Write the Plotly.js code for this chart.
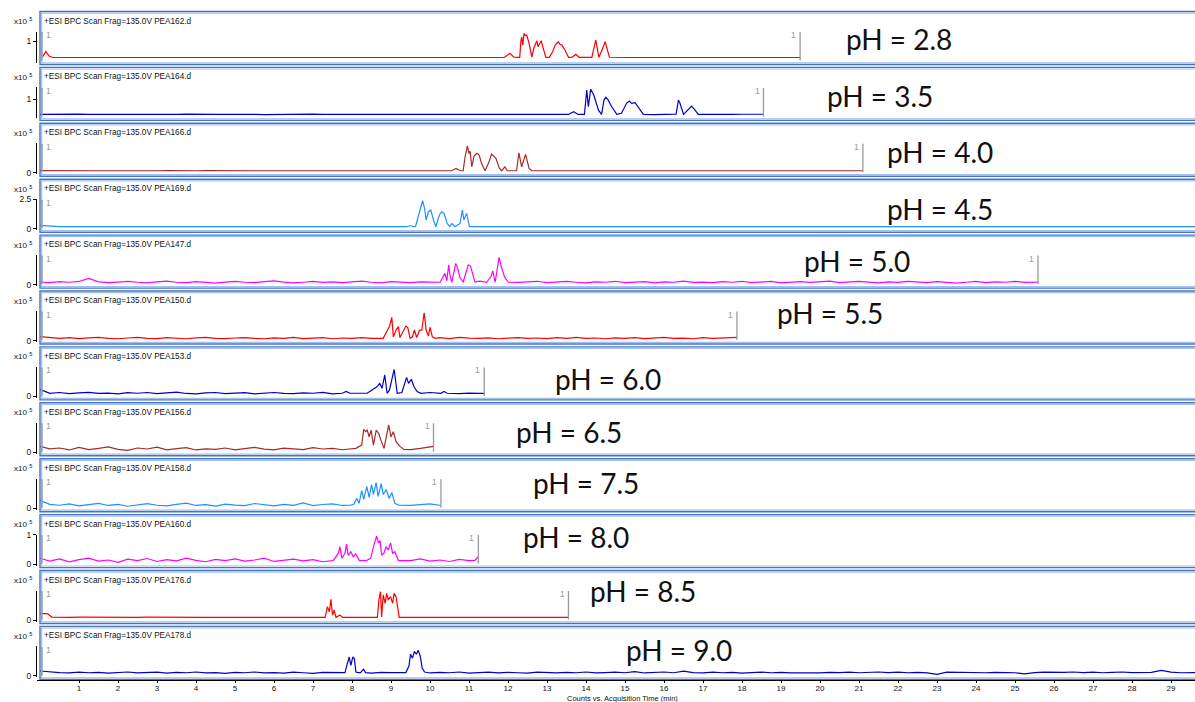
<!DOCTYPE html>
<html>
<head>
<meta charset="utf-8">
<script src="https://cdn.plot.ly/plotly-3.0.1.min.js"></script>
<style>html,body{margin:0;padding:0;background:#fff;}#chart{width:1195px;height:702px;}</style>
</head>
<body>
<div id="chart"></div>
<script>
// ---------------- DATA ----------------
const phLabels = ["pH = 2.8","pH = 3.5","pH = 4.0","pH = 4.5","pH = 5.0","pH = 5.5","pH = 6.0","pH = 6.5","pH = 7.5","pH = 8.0","pH = 8.5","pH = 9.0"];
const fileNames = ["PEA162.d","PEA164.d","PEA166.d","PEA169.d","PEA147.d","PEA150.d","PEA153.d","PEA156.d","PEA158.d","PEA160.d","PEA176.d","PEA178.d"];
const scanTitle = "+ESI BPC Scan Frag=135.0V ";
const xTicks = [1,2,3,4,5,6,7,8,9,10,11,12,13,14,15,16,17,18,19,20,21,22,23,24,25,26,27,28,29];
const yTicks = [[1],[1],[0],[0,2.5],[0],[0],[0],[0],[0],[0,1],[0],[0]];
const yTop = [1.5,1.65,2.0,2.5,1.5,2.0,1.5,1.5,1.5,1.0,2.0,1.5];   // counts x10^5 at top of each axis
const runEnd = [19.49,18.55,21.1,null,25.59,17.87,11.39,10.09,10.28,11.24,13.55,null]; // min

// acquisition time grid for baseline readings (min)
const timeGrid = [0,0.25,0.5,0.75,1,1.25,1.5,1.75,2,2.25,2.5,2.75,3,3.25,3.5,3.75,4,4.25,4.5,4.75,5,5.25,5.5,5.75,6,6.25,6.5,6.75,7,7.25,7.5,7.75,8,8.25,8.5,8.75,9,9.25,9.5,9.75,10,10.25,10.5,10.75,11,11.25,11.5,11.75,12,12.25,12.5,12.75,13,13.25,13.5,13.75,14,14.25,14.5,14.75,15,15.25,15.5,15.75,16,16.25,16.5,16.75,17,17.25,17.5,17.75,18,18.25,18.5,18.75,19,19.25,19.5,19.75,20,20.25,20.5,20.75,21,21.25,21.5,21.75,22,22.25,22.5,22.75,23,23.25,23.5,23.75,24,24.25,24.5,24.75,25,25.25,25.5,25.75,26,26.25,26.5,26.75,27,27.25,27.5,27.75,28,28.25,28.5,28.75,29,29.25,29.5,29.75];

// pH 2.8
const base_ph28 = [0.2,0.19,0.18,0.18,0.19,0.17,0.18,0.18,0.16,0.18,0.19,0.18,0.18,0.17,0.18,0.18,0.19,0.18,0.18,0.18,
0.17,0.18,0.19,0.18,0.18,0.18,0.16,0.18,0.18,0.19,0.18,0.18,0.18,0.17,0.18,0.18,0.18,0.19,0.18,0.18,
0.18,0.17,0.18,0.18,0.18,0.19,0.18,0.18,0.2,0.18,0.18,0.18,0.18,0.18,0.17,0.18,0.18,0.18,0.18,0.17,
0.18,0.18,0.18,0.19,0.18,0.18,0.17,0.18,0.18,0.18,0.19,0.18,0.18,0.18,0.18,0.18,0.18,0.18];
const peakT_ph28 = [0.06,0.15,0.24,0.34,11.9,12.05,12.15,12.25,12.3,12.33,12.35,12.38,12.41,12.44,12.48,12.54,12.61,12.67,12.74,12.77,12.81,12.85,12.91,12.97,13.06,13.15,13.21,13.25,13.29,13.33,13.38,13.46,13.55,13.65,13.74,13.82,14.15,14.25,14.33,14.42,14.49,14.6,14.7];
const peakV_ph28 = [0.2,0.48,0.24,0.18,0.18,0.39,0.2,0.19,0.19,1.0,1.23,0.8,1.41,1.3,1.32,0.9,0.2,0.7,1.03,0.73,0.9,1.03,0.6,0.19,0.19,0.5,0.81,0.9,0.98,0.85,0.81,0.56,0.19,0.2,0.34,0.19,0.19,1.07,0.19,0.6,0.98,0.19,0.18];

// pH 3.5
const base_ph35 = [0.14,0.15,0.13,0.14,0.16,0.14,0.13,0.14,0.15,0.14,0.14,0.13,0.15,0.14,0.14,0.16,0.14,0.13,0.14,0.14,
0.15,0.14,0.14,0.13,0.14,0.15,0.14,0.14,0.16,0.14,0.14,0.13,0.14,0.14,0.15,0.14,0.13,0.14,0.14,0.15,
0.14,0.14,0.13,0.14,0.15,0.14,0.14,0.14,0.13,0.15,0.14,0.14,0.17,0.14,0.14,0.14,0.13,0.14,0.14,0.14,
0.15,0.14,0.14,0.13,0.14,0.14,0.15,0.14,0.14,0.13,0.14,0.14,0.15,0.14,0.15];
const peakT_ph35 = [13.55,13.68,13.8,13.96,14.02,14.06,14.12,14.2,14.32,14.4,14.46,14.51,14.57,14.66,14.79,14.91,15.04,15.11,15.17,15.26,15.34,15.47,16.25,16.31,16.37,16.41,16.5,16.62,16.71,16.79,16.88];
const peakV_ph35 = [0.14,0.29,0.14,0.14,1.5,0.57,1.55,1.22,0.38,0.14,0.94,1.1,0.94,0.57,0.14,0.2,0.76,0.89,0.76,0.8,0.53,0.14,0.14,0.16,0.94,0.76,0.14,0.4,0.6,0.4,0.14];

// pH 4.0
const base_ph40 = [0.15,0.14,0.14,0.13,0.15,0.14,0.14,0.14,0.13,0.15,0.14,0.14,0.14,0.15,0.13,0.14,0.14,0.15,0.14,0.14,
0.13,0.14,0.15,0.14,0.14,0.14,0.13,0.14,0.15,0.14,0.14,0.14,0.15,0.13,0.14,0.14,0.14,0.15,0.14,0.14,
0.14,0.13,0.14,0.15,0.14,0.14,0.14,0.13,0.14,0.15,0.14,0.14,0.14,0.14,0.13,0.15,0.14,0.14,0.14,0.15,
0.14,0.13,0.14,0.14,0.15,0.14,0.14,0.14,0.13,0.14,0.15,0.14,0.14,0.14,0.13,0.14,0.15,0.14,0.14,0.14,
0.13,0.14,0.15,0.14,0.14];
const peakT_ph40 = [10.55,10.67,10.78,10.85,10.9,10.96,11.0,11.03,11.07,11.13,11.2,11.26,11.32,11.41,11.5,11.58,11.64,11.69,11.78,11.84,11.92,11.98,12.22,12.28,12.35,12.45,12.54,12.61];
const peakV_ph40 = [0.14,0.3,0.14,0.15,1.09,1.83,1.32,1.45,0.41,1.14,1.32,1.22,0.64,0.14,0.64,1.27,1.09,0.98,0.3,0.14,0.41,0.14,0.14,1.36,0.41,1.25,0.3,0.14];

// pH 4.5
const base_ph45 = [0.28,0.2,0.17,0.17,0.17,0.14,0.17,0.17,0.17,0.17,0.17,0.17,0.14,0.17,0.17,0.17,0.17,0.17,0.17,0.17,
0.17,0.17,0.14,0.17,0.17,0.17,0.17,0.17,0.14,0.17,0.17,0.17,0.17,0.17,0.17,0.17,0.17,0.17,0.17,0.17,
0.17,0.17,0.17,0.17,0.17,0.17,0.17,0.17,0.17,0.14,0.17,0.17,0.17,0.17,0.17,0.14,0.17,0.17,0.17,0.17,
0.17,0.17,0.14,0.17,0.17,0.17,0.17,0.17,0.17,0.17,0.17,0.14,0.17,0.17,0.17,0.17,0.17,0.17,0.17,0.17,
0.17,0.17,0.17,0.14,0.17,0.17,0.17,0.17,0.17,0.17,0.17,0.17,0.17,0.17,0.14,0.17,0.17,0.17,0.17,0.17,
0.17,0.17,0.17,0.17,0.14,0.17,0.17,0.17,0.17,0.17,0.17,0.17,0.17,0.14,0.17,0.17,0.17,0.17,0.17,0.17];
const peakT_ph45 = [9.4,9.51,9.57,9.63,9.7,9.76,9.81,9.86,9.9,9.96,10.02,10.09,10.15,10.24,10.3,10.36,10.44,10.51,10.56,10.64,10.77,10.83,10.87,10.94,11.01,11.1];
const peakV_ph45 = [0.17,0.27,0.17,0.2,1.02,1.58,2.37,1.73,0.74,1.44,1.58,0.74,0.17,1.16,1.44,1.3,0.45,0.17,0.45,0.17,0.45,1.58,0.74,1.3,0.17,0.17];

// pH 5.0
const base_ph50 = [0.12,0.1,0.15,0.12,0.16,0.32,0.14,0.1,0.13,0.17,0.12,0.09,0.14,0.18,0.12,0.1,0.15,0.12,0.08,0.13,
0.17,0.12,0.1,0.15,0.19,0.13,0.09,0.12,0.16,0.11,0.14,0.1,0.13,0.18,0.12,0.09,0.15,0.13,0.1,0.14,
0.12,0.16,0.1,0.14,0.12,0.15,0.1,0.13,0.2,0.11,0.14,0.17,0.1,0.13,0.16,0.12,0.09,0.14,0.12,0.17,
0.1,0.13,0.15,0.09,0.14,0.12,0.18,0.11,0.13,0.1,0.15,0.12,0.17,0.1,0.13,0.16,0.09,0.12,0.15,0.11,
0.14,0.18,0.1,0.12,0.16,0.13,0.09,0.14,0.11,0.17,0.12,0.1,0.15,0.13,0.08,0.12,0.16,0.1,0.14,0.12,
0.17,0.11,0.13];
const peakT_ph50 = [10.26,10.38,10.43,10.48,10.51,10.56,10.62,10.66,10.71,10.77,10.85,10.92,10.98,11.04,11.09,11.15,11.28,11.45,11.56,11.61,11.67,11.73,11.77,11.84,11.92,12.01];
const peakV_ph50 = [0.12,0.57,0.2,1.0,0.5,0.12,0.83,1.08,0.83,0.35,0.12,0.65,1.0,0.93,0.57,0.14,0.18,0.12,0.4,0.7,0.12,0.93,1.38,0.83,0.35,0.12];

// pH 5.5
const base_ph55 = [0.26,0.2,0.15,0.2,0.13,0.18,0.22,0.14,0.12,0.17,0.21,0.15,0.13,0.19,0.16,0.12,0.18,0.22,0.15,0.13,
0.17,0.2,0.14,0.12,0.18,0.15,0.21,0.13,0.16,0.19,0.12,0.17,0.15,0.2,0.14,0.18,0.22,0.16,0.13,0.17,
0.15,0.19,0.13,0.21,0.16,0.14,0.18,0.12,0.16,0.2,0.14,0.17,0.13,0.19,0.15,0.22,0.14,0.17,0.12,0.18,
0.15,0.2,0.13,0.17,0.21,0.14,0.16,0.12,0.19,0.15,0.18,0.22];
const peakT_ph55 = [8.8,8.91,8.96,9.02,9.06,9.13,9.19,9.23,9.32,9.38,9.43,9.49,9.55,9.6,9.66,9.73,9.79,9.85,9.9,9.96,10.0,10.06,10.13];
const peakV_ph55 = [0.15,0.71,0.94,1.57,0.25,0.71,0.94,0.2,0.71,0.98,0.88,0.15,0.25,0.71,0.2,0.71,0.7,1.88,0.71,0.3,0.9,0.25,0.15];

// pH 6.0
const base_ph60 = [0.36,0.16,0.2,0.14,0.18,0.21,0.15,0.17,0.13,0.19,0.16,0.2,0.14,0.17,0.22,0.15,0.13,0.18,0.2,0.14,
0.16,0.19,0.13,0.17,0.2,0.15,0.14,0.18,0.16,0.21,0.13,0.16,0.19,0.15,0.17,0.14,0.2,0.16,0.18,0.14,
0.2,0.17,0.15,0.14,0.17,0.15];
const peakT_ph60 = [7.75,7.85,7.95,8.39,8.54,8.64,8.71,8.77,8.84,8.9,8.96,9.08,9.16,9.28,9.4,9.45,9.52,9.59,9.67,9.77,10.28,10.36,10.44];
const peakV_ph60 = [0.16,0.25,0.16,0.16,0.36,0.49,0.66,0.41,1.09,0.16,0.32,1.37,0.16,0.2,0.97,0.66,0.87,0.49,0.25,0.16,0.16,0.25,0.16];

// pH 6.5
const base_ph65 = [0.3,0.18,0.22,0.12,0.25,0.14,0.2,0.28,0.15,0.1,0.22,0.17,0.26,0.13,0.19,0.24,0.12,0.18,0.15,0.22,
0.13,0.2,0.25,0.16,0.12,0.21,0.18,0.14,0.24,0.17,0.2,0.13,0.26,0.18,0.15,0.22,0.28,0.16,0.14,0.2,
0.3];
const peakT_ph65 = [8.1,8.25,8.3,8.35,8.39,8.44,8.49,8.55,8.62,8.69,8.74,8.82,8.88,8.94,9.0,9.06,9.13,9.23,9.33];
const peakV_ph65 = [0.2,0.37,1.17,1.05,1.13,0.79,1.13,0.37,1.13,0.93,0.62,0.2,0.79,1.39,0.79,1.05,0.54,0.3,0.15];

// pH 7.5
const base_ph75 = [0.4,0.2,0.15,0.22,0.12,0.18,0.25,0.14,0.2,0.1,0.17,0.23,0.15,0.12,0.2,0.26,0.14,0.18,0.11,0.21,
0.16,0.13,0.24,0.18,0.12,0.2,0.15,0.27,0.13,0.19,0.22,0.14,0.17,0.25,0.12,0.2,0.16,0.23,0.14,0.19,
0.22,0.15];
const peakT_ph75 = [7.95,8.05,8.12,8.18,8.25,8.3,8.38,8.44,8.5,8.55,8.62,8.67,8.75,8.8,8.88,8.95,9.02,9.1,9.2];
const peakV_ph75 = [0.15,0.2,0.5,0.25,0.9,0.45,1.1,0.55,1.2,0.7,1.3,0.6,1.25,0.7,0.95,0.5,0.8,0.25,0.15];

// pH 8.0
const base_ph80 = [0.2,0.1,0.18,0.08,0.15,0.2,0.1,0.14,0.06,0.17,0.12,0.19,0.09,0.15,0.11,0.2,0.13,0.08,0.16,0.12,
0.18,0.1,0.14,0.2,0.09,0.13,0.17,0.11,0.15,0.08,0.19,0.12,0.14,0.1,0.17,0.13,0.09,0.16,0.12,0.18,
0.1,0.14,0.09,0.16,0.12];
const peakT_ph80 = [7.52,7.65,7.69,7.74,7.82,7.86,7.9,7.97,8.03,8.1,8.19,8.38,8.48,8.55,8.59,8.63,8.68,8.72,8.76,8.82,8.87,8.93,8.99,9.04,9.1,9.19,11.15,11.24];
const peakV_ph80 = [0.12,0.37,0.59,0.2,0.37,0.68,0.3,0.42,0.25,0.34,0.12,0.13,0.2,0.59,0.76,0.95,0.72,0.8,0.3,0.37,0.59,0.48,0.72,0.37,0.42,0.12,0.13,0.25];

// pH 8.5
const base_ph85 = [0.45,0.25,0.18,0.18,0.19,0.18,0.18,0.18,0.17,0.18,0.18,0.19,0.18,0.18,0.18,0.18,0.17,0.18,0.18,0.18,
0.19,0.18,0.18,0.18,0.18,0.17,0.18,0.18,0.18,0.18,0.19,0.18,0.18,0.18,0.18,0.18,0.17,0.18,0.18,0.18,
0.18,0.19,0.18,0.18,0.18,0.18,0.17,0.18,0.18,0.18,0.19,0.18,0.18,0.18,0.18];
const peakT_ph85 = [0.0,0.2,0.3,7.25,7.31,7.37,7.42,7.46,7.5,7.54,7.59,7.69,7.76,8.6,8.65,8.69,8.73,8.76,8.8,8.85,8.89,8.93,8.99,9.04,9.08,9.13,9.17,9.21,9.3];
const peakV_ph85 = [0.45,0.42,0.2,0.18,0.18,0.9,0.56,1.4,0.34,0.68,0.18,0.34,0.18,0.18,0.18,1.36,1.92,0.2,1.7,1.13,1.81,1.36,1.58,1.13,1.81,1.58,0.68,0.18,0.18];

// pH 9.0
const base_ph90 = [0.25,0.2,0.17,0.15,0.19,0.16,0.18,0.14,0.17,0.2,0.15,0.17,0.19,0.14,0.18,0.16,0.2,0.15,0.17,0.13,
0.18,0.16,0.2,0.15,0.17,0.14,0.19,0.16,0.13,0.18,0.17,0.15,0.19,0.16,0.14,0.18,0.17,0.15,0.19,0.17,
0.15,0.18,0.16,0.2,0.14,0.17,0.19,0.15,0.18,0.16,0.14,0.19,0.17,0.15,0.18,0.16,0.2,0.15,0.17,0.19,
0.16,0.22,0.15,0.18,0.2,0.16,0.24,0.17,0.15,0.19,0.16,0.18,0.14,0.17,0.19,0.16,0.18,0.15,0.17,0.16,
0.15,0.18,0.17,0.19,0.16,0.18,0.2,0.17,0.19,0.16,0.18,0.15,0.08,0.19,0.18,0.17,0.19,0.16,0.18,0.17,
0.16,0.1,0.17,0.19,0.17,0.18,0.2,0.17,0.19,0.16,0.18,0.2,0.17,0.19,0.18,0.28,0.19,0.16,0.15,0.17];
const peakT_ph90 = [7.75,7.82,7.88,7.93,7.97,8.02,8.06,8.1,8.16,8.22,8.29,8.35,9.38,9.46,9.5,9.55,9.6,9.65,9.7,9.75,9.8,9.86];
const peakV_ph90 = [0.17,0.17,0.62,0.96,0.54,0.96,0.88,0.2,0.17,0.17,0.34,0.17,0.17,0.5,1.1,0.9,1.25,1.1,1.3,1.0,0.4,0.2];

const baselines = [base_ph28,base_ph35,base_ph40,base_ph45,base_ph50,base_ph55,base_ph60,base_ph65,base_ph75,base_ph80,base_ph85,base_ph90];
const peakTimes = [peakT_ph28,peakT_ph35,peakT_ph40,peakT_ph45,peakT_ph50,peakT_ph55,peakT_ph60,peakT_ph65,peakT_ph75,peakT_ph80,peakT_ph85,peakT_ph90];
const peakVals  = [peakV_ph28,peakV_ph35,peakV_ph40,peakV_ph45,peakV_ph50,peakV_ph55,peakV_ph60,peakV_ph65,peakV_ph75,peakV_ph80,peakV_ph85,peakV_ph90];

// ---------------- STYLE / LAYOUT ----------------
const colors = ["#ff0000","#0000c8","#a52a2a","#1e90ff","#ff00ff","#ff0000","#0000c8","#a52a2a","#1e90ff","#ff00ff","#ff0000","#0000c8"];
const labelPos = [[844,39],[825,96],[885,152],[885,209],[802,261],[775,313],[553,379],[514,432],[531,483],[521,537],[588,591],[624,650]];
const W = 1195, H = 702, L = 37, PXMIN = 39;
const px2x = p => (p - L) / (W - L);
const py2y = p => 1 - p / H;
const panelTop = k => 11.5 + 55.9 * k;
const panelBot = k => panelTop(k) + 53;

function buildSeries(base, pkT, pkV, end) {
  const pts = [];
  for (let i = 0; i < base.length && i < timeGrid.length; i++) {
    const t = timeGrid[i];
    if (end !== null && t >= end) break;
    if (pkT.some(p => Math.abs(p - t) < 0.1)) continue;
    pts.push([t, base[i]]);
  }
  pkT.forEach((t, i) => pts.push([t, pkV[i]]));
  pts.sort((a, b) => a[0] - b[0]);
  if (end !== null && pts[pts.length - 1][0] < end - 0.01) pts.push([end, pts[pts.length - 1][1]]);
  return pts;
}

const traces = [], shapes = [], annotations = [];
const layout = {
  width: W, height: H, margin: {l: L, r: 0, t: 0, b: 0},
  paper_bgcolor: "#fff", plot_bgcolor: "rgba(0,0,0,0)", showlegend: false,
  font: {family: "Liberation Sans, Arial, sans-serif", size: 8, color: "#111"},
  xaxis: {
    range: [-3 / PXMIN, -3 / PXMIN + (W - L) / PXMIN], anchor: "free", position: py2y(680),
    showline: true, linecolor: "#000", linewidth: 1, ticks: "outside", ticklen: 2, tickcolor: "#000",
    ticklabelstandoff: -2,
    tickvals: xTicks, tickfont: {size: 8, color: "#111"}, showgrid: false, zeroline: false, fixedrange: true
  }
};

for (let k = 0; k < 12; k++) {
  const pts = buildSeries(baselines[k], peakTimes[k], peakVals[k], runEnd[k]);
  const yname = k === 0 ? "y" : "y" + (k + 1);
  const lname = k === 0 ? "yaxis" : "yaxis" + (k + 1);
  traces.push({
    x: pts.map(p => p[0]), y: pts.map(p => p[1]), xaxis: "x", yaxis: yname,
    type: "scatter", mode: "lines", line: {color: colors[k], width: 1.2}, hoverinfo: "skip"
  });
  const top = panelTop(k), bot = panelBot(k);
  const hi = yTop[k], lo = -hi * 0.05;
  layout[lname] = {
    domain: [py2y(bot - 2), py2y(bot - 33)], range: [lo, hi], anchor: "x",
    showline: true, linecolor: "#000", linewidth: 1, ticks: "outside", ticklen: 3, tickcolor: "#000",
    tickvals: yTicks[k], tickfont: {size: 8.5, color: "#111"}, showgrid: false, zeroline: false, fixedrange: true
  };
  // frame (double blue border)
  shapes.push({type: "rect", xref: "paper", yref: "paper", x0: px2x(40), x1: 1.02, y0: py2y(bot), y1: py2y(top),
    line: {color: "#4472c4", width: 1.4}, fillcolor: "rgba(0,0,0,0)"});
  shapes.push({type: "rect", xref: "paper", yref: "paper", x0: px2x(41.6), x1: 1.02, y0: py2y(bot - 1.6), y1: py2y(top + 1.6),
    line: {color: "#a3c0ea", width: 1.2}, fillcolor: "rgba(0,0,0,0)"});
  // scan markers
  shapes.push({type: "line", xref: "x", yref: "paper", x0: 0.05, x1: 0.05, y0: py2y(bot - 4), y1: py2y(bot - 32.5),
    line: {color: "#9a9a9a", width: 1.5}});
  annotations.push({xref: "x", yref: "paper", x: 0.1, y: py2y(bot - 29.5), xanchor: "left", yanchor: "middle",
    text: "1", showarrow: false, font: {size: 8.5, color: "#9a9a9a"}});
  if (runEnd[k] !== null) {
    shapes.push({type: "line", xref: "x", yref: "paper", x0: runEnd[k], x1: runEnd[k], y0: py2y(bot - 4), y1: py2y(bot - 32.5),
      line: {color: "#9a9a9a", width: 1.3}});
    annotations.push({xref: "x", yref: "paper", x: runEnd[k] - 0.05, y: py2y(bot - 29.5), xanchor: "right", yanchor: "middle",
      text: "1", showarrow: false, font: {size: 8.5, color: "#9a9a9a"}});
  }
  // titles
  annotations.push({xref: "paper", yref: "paper", x: px2x(42), y: py2y(top + 9.5), xanchor: "left", yanchor: "middle",
    text: scanTitle + fileNames[k], showarrow: false, font: {size: 8.2, color: "#111"}});
  annotations.push({xref: "paper", yref: "paper", x: px2x(34), y: py2y(top + 9.5), xanchor: "right", yanchor: "middle",
    text: "x10 <sup>5</sup>", showarrow: false, font: {size: 8, color: "#111"}});
  annotations.push({xref: "paper", yref: "paper", x: px2x(labelPos[k][0]), y: py2y(labelPos[k][1]), xanchor: "left", yanchor: "middle",
    text: phLabels[k], showarrow: false, font: {family: "Lato, Open Sans, sans-serif", size: 28, color: "#111"}});
}
annotations.push({xref: "paper", yref: "paper", x: px2x(622), y: py2y(698.5), xanchor: "center", yanchor: "middle",
  text: "Counts vs. Acquisition Time (min)", showarrow: false, font: {size: 7.5, color: "#111"}});

layout.shapes = shapes;
layout.annotations = annotations;
Plotly.newPlot("chart", traces, layout, {displayModeBar: false, staticPlot: true});
</script>
</body>
</html>
